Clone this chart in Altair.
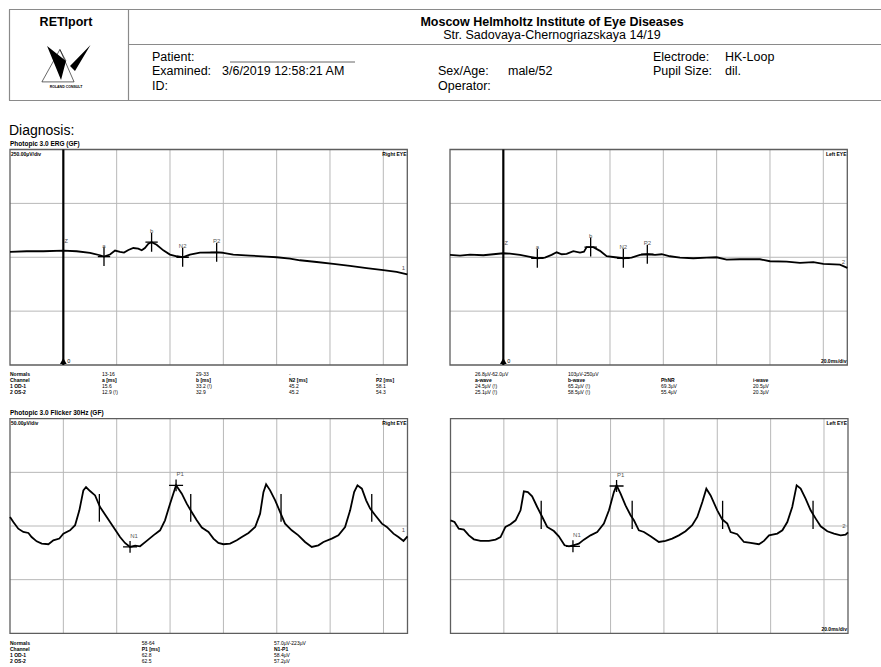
import altair as alt
import pandas as pd

FONT = "Liberation Sans"

# ---------------- data: Photopic 3.0 ERG (time ms, amplitude µV) ----------------
erg_r_t = [-20, -13.75, -7.5, 0, 5, 10, 13.75, 15.25, 17.5, 19.4,
           21.25, 22.75, 24.4, 26.25, 28.1, 29.4, 30.6, 31.9, 33.1, 35,
           37.5, 40, 42.5, 44.75, 47.5, 51.25, 57.5, 60, 63.75, 70,
           76.25, 80, 85, 88.75, 95, 101.25, 107.5, 113.75, 120, 125, 129]
erg_r_v = [24.5, 27.8, 27.8, 31, 27.8, 19.9, 9.3, 3.2, 12.5, 31,
           24.5, 21.8, 33.8, 43, 40, 32.4, 43, 63, 70, 58,
           32, 12.5, 4.6, 0, 12.5, 21.8, 23, 20, 12.5, 8,
           3, 0, -6, -14, -22, -31, -40, -50, -60, -68, -80]
erg_l_t = [-20, -16.25, -12.5, -7.5, -3.75, 0, 2.5, 6.25, 10, 12.75,
           15.6, 18.1, 20, 21.9, 23.75, 26.25, 28.75, 30.25, 31.25, 33.75,
           36.25, 38.75, 41.9, 45, 48.1, 51.25, 54, 56.9, 59.4, 62.5,
           66.25, 71.25, 76.25, 80, 83.75, 88.75, 96.25, 100, 106.25, 111.25,
           116.25, 120, 126.25, 129]
erg_l_v = [11, 8, 12.5, 9.3, 14, 18.5, 17, 11, 2, -4.6,
           -1.5, 11, 23, 14, 15.5, 28, 21.6, 26, 47, 47,
           29.6, 4.6, 0, -4.6, -1.5, 11, 14, 11, 14, 4.6,
           -1.5, -4.6, -1.5, 0, -10.6, -9.3, -9.3, -18.5, -20, -26,
           -23, -30.6, -34, -49]
erg_peak_labels = ["a", "b", "N2", "P2"]
erg_r_peak_t = [15.25, 33.1, 44.75, 57.5]
erg_r_peak_v = [3.2, 70, 0, 23]
erg_l_peak_t = [12.75, 32.75, 45, 54]
erg_l_peak_v = [-4.6, 47, -4.6, 14]
erg_r_z_v = 31
erg_l_z_v = 18.5

# ---------------- data: Photopic 3.0 Flicker 30Hz ----------------
flk_r_t = [0, 1.25, 3.1, 5, 6.9, 8.1, 10, 11.9, 14.4, 16.25,
           18.5, 20, 22.5, 24.4, 26, 27.5, 28.5, 30, 31.9, 33.75,
           36.25, 38.75, 41.25, 43.1, 45, 46.9, 48.75, 51.25, 53.75, 56.25,
           58.1, 60, 62.25, 64.4, 66.25, 68.1, 70, 71.9, 74.4, 76.25,
           78.1, 80, 82.5, 85, 86.9, 89.4, 91.9, 93.75, 95, 96,
           97.5, 99.4, 101.25, 103.1, 105.6, 108.1, 110.6, 113.1, 115.6, 117.5,
           120.6, 123.1, 125.6, 127.5, 129, 130.25, 131.9, 133.5, 135, 136.9,
           139.4, 141.25, 143.75, 145.6, 147.5, 149]
flk_r_v = [8.4, 3.7, -2.5, -5.6, -6.5, -10.3, -14.3, -16.4, -17, -13.3,
           -11.7, -7.1, -4, 0.7, 14.6, 33.2, 36.3, 32.6, 28.5, 17.7,
           8.4, -0.9, -10.3, -15.8, -19.5, -18.3, -18.9, -13.9, -8.7, -4,
           5.3, 20.8, 37.9, 30.1, 20.8, 13, 5.3, -1.5, -5.6, -11.7,
           -15.8, -17, -16.4, -13.3, -10.3, -6.5, -0.9, 11.5, 31.6, 38.8,
           33.2, 23.9, 13, 2.2, -4, -8.7, -14.9, -19.5, -18, -14.9,
           -11.7, -8.7, -0.9, 14.6, 31.6, 37.9, 34.8, 23.9, 16.2, 10,
           2.2, -0.9, -7.1, -10.3, -13.9, -9.6]
flk_l_t = [0, 1.5, 3.1, 5, 6.9, 8.75, 11.25, 14.4, 16.9, 18.75,
           20.6, 22.5, 24.4, 26.25, 27.5, 29, 30.6, 32.5, 34.4, 36.25,
           38.75, 40.6, 42.75, 44.4, 46, 48.1, 50, 52.5, 55, 57.5,
           59.4, 61.25, 62.25, 63.75, 65.6, 67.5, 68.75, 70.6, 72.5, 75,
           78.1, 80.6, 83.1, 85.6, 88.1, 90.6, 92.5, 94.4, 95.9, 97.5,
           100, 101.9, 103.75, 105, 107.5, 110, 112.5, 115.6, 117.5, 119.4,
           122.5, 124.4, 126.25, 128.1, 129.75, 131.25, 133.1, 135, 136.9, 138.75,
           141.25, 143.75, 146.25, 148.1, 149]
flk_l_v = [5.3, 3.7, -2.5, -3.4, -8.7, -12.4, -13.9, -13.9, -12.7, -10.3,
           -0.9, 1.6, 5.3, 14.6, 32.3, 31.6, 27.6, 17.7, 8.4, -0.9,
           -4.7, -9.6, -18, -18.9, -18, -16.4, -12.7, -8.7, -5.6, 2.2,
           14.6, 31.6, 37.9, 30.1, 19.2, 10, 5.3, -4, -5.6, -9.6,
           -14.9, -13.9, -11.7, -8.7, -4.9, 0.7, 8.4, 22.3, 34.8, 28.5,
           14.6, 6, 2.2, -5.6, -7.7, -14.9, -15.8, -17, -13.9, -8.7,
           -7.1, -4, 3.7, 17.7, 37.9, 34.8, 25.5, 14.6, 6.9, -0.3,
           -4.9, -7.1, -8.7, -8, -5.9]
flk_peak_labels = ["N1", "P1"]
flk_r_peak_t = [45, 62.25]
flk_r_peak_v = [-19.5, 37.9]
flk_l_peak_t = [45.9, 62.25]
flk_l_peak_v = [-18.9, 37.3]
flk_r_bar_t = [33.5, 67.75, 101.6, 135.6]
flk_r_bar_lo, flk_r_bar_hi = 4.0, 29.8
flk_l_bar_t = [34, 68.1, 102, 135.9]
flk_l_bar_lo, flk_l_bar_hi = -2.8, 23.5

erg_vgrid = [0, 20, 40, 60, 80, 100, 120]
erg_hgrid = [-250, 0, 250]
flk_vgrid = [20, 40, 60, 80, 100, 120, 140]
flk_hgrid = [-50, 0, 50]

# ---------------- tables ----------------
row_labels = ["Normals", "Channel", "1 OD-1", "2 OS-2"]
erg_r_cols = ["a [ms]", "b [ms]", "N2 [ms]", "P2 [ms]"]
erg_r_norm = ["13-16", "29-33", "-", "-"]
erg_r_od = ["15.6", "33.2 (!)", "45.2", "58.1"]
erg_r_os = ["12.9 (!)", "32.9", "45.2", "54.3"]
erg_l_cols = ["a-wave", "b-wave", "PhNR", "i-wave"]
erg_l_norm = ["26.8µV-62.0µV", "103µV-250µV", "", ""]
erg_l_od = ["24.5µV (!)", "65.2µV (!)", "69.3µV", "20.5µV"]
erg_l_os = ["25.1µV (!)", "58.5µV (!)", "55.4µV", "20.3µV"]
flk_cols = ["P1 [ms]", "N1-P1"]
flk_norm = ["58-64", "57.0µV-223µV"]
flk_od = ["62.8", "58.4µV"]
flk_os = ["62.5", "57.2µV"]

# ---------------- layout (pixels) ----------------
ERG_R = dict(xdom=[-20, 129], xrng=[10, 407.3], ydom=[-500, 500], yrng=[365, 149.5])
ERG_L = dict(xdom=[-20, 129], xrng=[450, 847.3], ydom=[-500, 500], yrng=[365, 149.5])
FLK_R = dict(xdom=[0, 149], xrng=[10, 407.5], ydom=[-100, 100], yrng=[633.3, 418.7])
FLK_L = dict(xdom=[0, 149], xrng=[450.5, 848], ydom=[-100, 100], yrng=[633.3, 418.7])

ERG_CROSS = "M0,-1L0,1M-0.65,0L0.65,0"
FLK_CROSS = "M0,-0.85L0,0.85M-1,0L1,0"


def panel(g, t, v, vgrid, hgrid, end_lab, pk_lab, pk_t, pk_v, cross, cross_size,
          zero_v=None, bars=None, lab_dx=0, lab_dy=-11):
    xs = alt.Scale(domain=g["xdom"], range=g["xrng"], nice=False, zero=False)
    ys = alt.Scale(domain=g["ydom"], range=g["yrng"], nice=False, zero=False)

    def X(f):
        return alt.X(f, scale=xs, axis=None)

    def Y(f):
        return alt.Y(f, scale=ys, axis=None)

    L = []
    vg = pd.DataFrame({"t": vgrid, "v0": g["ydom"][0], "v1": g["ydom"][1]})
    L.append(alt.Chart(vg).mark_rule(color="#b8b8b8", strokeWidth=1)
             .encode(x=X("t:Q"), y=Y("v0:Q"), y2="v1:Q"))
    hg = pd.DataFrame({"v": hgrid, "t0": g["xdom"][0], "t1": g["xdom"][1]})
    L.append(alt.Chart(hg).mark_rule(color="#b8b8b8", strokeWidth=1)
             .encode(y=Y("v:Q"), x=X("t0:Q"), x2="t1:Q"))
    box = pd.DataFrame({"t0": [g["xdom"][0]], "t1": [g["xdom"][1]],
                        "v0": [g["ydom"][0]], "v1": [g["ydom"][1]]})
    L.append(alt.Chart(box).mark_rect(filled=False, color="#5e5e5e", strokeWidth=1.3)
             .encode(x=X("t0:Q"), x2="t1:Q", y=Y("v0:Q"), y2="v1:Q"))
    if zero_v is not None:
        zl = pd.DataFrame({"t": [0], "v0": [g["ydom"][0]], "v1": [g["ydom"][1]],
                           "vz": [zero_v], "lab": ["Z"], "zero": ["0"]})
        L.append(alt.Chart(zl).mark_rule(color="black", strokeWidth=2.2)
                 .encode(x=X("t:Q"), y=Y("v0:Q"), y2="v1:Q"))
        L.append(alt.Chart(zl).mark_point(shape="triangle-up", filled=True, size=45,
                                          color="black", opacity=1, yOffset=-4)
                 .encode(x=X("t:Q"), y=Y("v0:Q")))
        L.append(alt.Chart(zl).mark_text(font=FONT, fontSize=5.5, align="left", dx=4, dy=-4,
                                         baseline="middle", color="black")
                 .encode(x=X("t:Q"), y=Y("v0:Q"), text="zero:N"))
        L.append(alt.Chart(zl).mark_text(font=FONT, fontSize=6, align="left", dx=1, dy=-10,
                                         baseline="middle", color="#555")
                 .encode(x=X("t:Q"), y=Y("vz:Q"), text="lab:N"))
    if bars is not None:
        bt, lo, hi = bars
        bd = pd.DataFrame({"t": bt, "v0": lo, "v1": hi})
        L.append(alt.Chart(bd).mark_rule(color="black", strokeWidth=1.3)
                 .encode(x=X("t:Q"), y=Y("v0:Q"), y2="v1:Q"))
    tr = pd.DataFrame({"t": t, "v": v})
    L.append(alt.Chart(tr).mark_line(color="black", strokeWidth=1.8)
             .encode(x=X("t:Q"), y=Y("v:Q")))
    pk = pd.DataFrame({"t": pk_t, "v": pk_v, "lab": pk_lab})
    L.append(alt.Chart(pk).mark_point(shape=cross, size=cross_size, filled=False,
                                      color="black", strokeWidth=1.3, opacity=1)
             .encode(x=X("t:Q"), y=Y("v:Q")))
    L.append(alt.Chart(pk).mark_text(font=FONT, fontSize=6, dx=lab_dx, dy=lab_dy,
                                     baseline="middle", color="#555")
             .encode(x=X("t:Q"), y=Y("v:Q"), text="lab:N"))
    en = pd.DataFrame({"t": [t[-1]], "v": [v[-1]], "lab": [end_lab]})
    L.append(alt.Chart(en).mark_text(font=FONT, fontSize=6, dx=-4, dy=-6,
                                     baseline="middle", color="#555")
             .encode(x=X("t:Q"), y=Y("v:Q"), text="lab:N"))
    return L


def ptext(rows, size, weight="normal", align="left", color="black"):
    df = pd.DataFrame(rows, columns=["s", "x", "y"])
    return (alt.Chart(df)
            .mark_text(font=FONT, fontSize=size, fontWeight=weight, align=align,
                       baseline="middle", color=color)
            .encode(x=alt.X("x:Q", scale=None, axis=None),
                    y=alt.Y("y:Q", scale=None, axis=None),
                    text="s:N"))


def table(col_x, row_y, cols, norm, od, os_, with_labels, label_x=10):
    bold, reg = [], []
    if with_labels:
        for lab, y in zip(row_labels, row_y):
            bold.append((lab, label_x, y))
    for i, x in enumerate(col_x):
        if norm[i]:
            reg.append((norm[i], x, row_y[0]))
        bold.append((cols[i], x, row_y[1]))
        reg.append((od[i], x, row_y[2]))
        reg.append((os_[i], x, row_y[3]))
    return [ptext(bold, 5, "bold"), ptext(reg, 5)]


layers = []

# ---------------- header ----------------
hl = pd.DataFrame({
    "x": [9, 9, 9.5, 128.5, 128.5],
    "x2": [881, 881, 9.5, 128.5, 881],
    "y": [9.5, 100.5, 9.5, 9.5, 44.5],
    "y2": [9.5, 100.5, 100.5, 100.5, 44.5],
})
layers.append(alt.Chart(hl).mark_rule(color="#8a8a8a", strokeWidth=1.2).encode(
    x=alt.X("x:Q", scale=None, axis=None), x2="x2:Q",
    y=alt.Y("y:Q", scale=None, axis=None), y2="y2:Q"))
layers.append(alt.Chart(pd.DataFrame({"a": [0]})).mark_rule(color="#666", strokeWidth=1).encode(
    x=alt.value(230), x2=alt.value(355), y=alt.value(62)))
# logo
layers.append(alt.Chart(pd.DataFrame({"a": [0]})).mark_point(
    shape="M-0.93,-0.76L-0.31,0.76L-0.09,-0.09Z M0.09,0.13L1.0,-0.8L0.31,0.36Z",
    filled=True, color="black", opacity=1, size=2025).encode(x=alt.value(68), y=alt.value(63)))
layers.append(alt.Chart(pd.DataFrame({"a": [0]})).mark_point(
    shape="M-1.16,0.84L-0.36,-0.6L0.27,0.84L-1.16,0.84 M-0.36,-0.6L-0.09,-0.09",
    filled=False, color="black", opacity=1, strokeWidth=0.6, size=2025).encode(x=alt.value(68), y=alt.value(63)))
layers.append(ptext([("ROLAND CONSULT", 66, 87)], 3.5, "bold", "center"))

layers.append(ptext([("RETIport", 66, 21.5),
                     ("Moscow Helmholtz Institute of Eye Diseases", 552, 21.5)], 12.5, "bold", "center"))
layers.append(ptext([("Str. Sadovaya-Chernogriazskaya 14/19", 552, 35)], 12.5, "normal", "center"))
layers.append(ptext([("Patient:", 152, 56.5), ("Examined:", 152, 71), ("ID:", 152, 85.5),
                     ("3/6/2019 12:58:21 AM", 222, 71),
                     ("Sex/Age:", 438, 71), ("male/52", 508, 71), ("Operator:", 438, 85.5),
                     ("Electrode:", 653, 56.5), ("HK-Loop", 725, 56.5),
                     ("Pupil Size:", 653, 71), ("dil.", 725, 71)], 12.5))
layers.append(ptext([("Diagnosis:", 9, 131)], 14))
layers.append(ptext([("Photopic 3.0 ERG (GF)", 10, 144),
                     ("Photopic 3.0 Flicker 30Hz  (GF)", 10, 412.5)], 6.5, "bold"))

# ---------------- panels ----------------
layers += panel(ERG_R, erg_r_t, erg_r_v, erg_vgrid, erg_hgrid, "1",
                erg_peak_labels, erg_r_peak_t, erg_r_peak_v, ERG_CROSS, 361, zero_v=erg_r_z_v)
layers += panel(ERG_L, erg_l_t, erg_l_v, erg_vgrid, erg_hgrid, "2",
                erg_peak_labels, erg_l_peak_t, erg_l_peak_v, ERG_CROSS, 361, zero_v=erg_l_z_v)
layers += panel(FLK_R, flk_r_t, flk_r_v, flk_vgrid, flk_hgrid, "1",
                flk_peak_labels, flk_r_peak_t, flk_r_peak_v, FLK_CROSS, 196,
                bars=(flk_r_bar_t, flk_r_bar_lo, flk_r_bar_hi), lab_dx=4, lab_dy=-11)
layers += panel(FLK_L, flk_l_t, flk_l_v, flk_vgrid, flk_hgrid, "2",
                flk_peak_labels, flk_l_peak_t, flk_l_peak_v, FLK_CROSS, 196,
                bars=(flk_l_bar_t, flk_l_bar_lo, flk_l_bar_hi), lab_dx=4, lab_dy=-11)

layers.append(ptext([("250.00µV/div", 11, 153.5), ("50.00µV/div", 11, 423)], 5, "bold"))
layers.append(ptext([("Right EYE", 406.5, 153.5), ("Left EYE", 846.5, 153.5),
                     ("20.0ms/div", 846.5, 361), ("Right EYE", 406.5, 423),
                     ("Left EYE", 847, 423), ("20.0ms/div", 847, 629)], 5, "bold", "right"))

# ---------------- tables ----------------
layers += table([102, 196, 289, 376], [374, 380, 386, 392],
                erg_r_cols, erg_r_norm, erg_r_od, erg_r_os, True)
layers += table([475, 568, 661, 753], [374, 380, 386, 392],
                erg_l_cols, erg_l_norm, erg_l_od, erg_l_os, False)
layers += table([141.7, 274], [642.7, 648.7, 654.7, 660.7],
                flk_cols, flk_norm, flk_od, flk_os, True)

chart = (alt.layer(*layers)
         .resolve_scale(x="independent", y="independent")
         .properties(width=881, height=667, padding=0,
                     autosize=alt.AutoSizeParams(type="none"), background="white")
         .configure_view(stroke=None))

chart.save("out.html", embed_options={"renderer": "svg", "actions": False})
